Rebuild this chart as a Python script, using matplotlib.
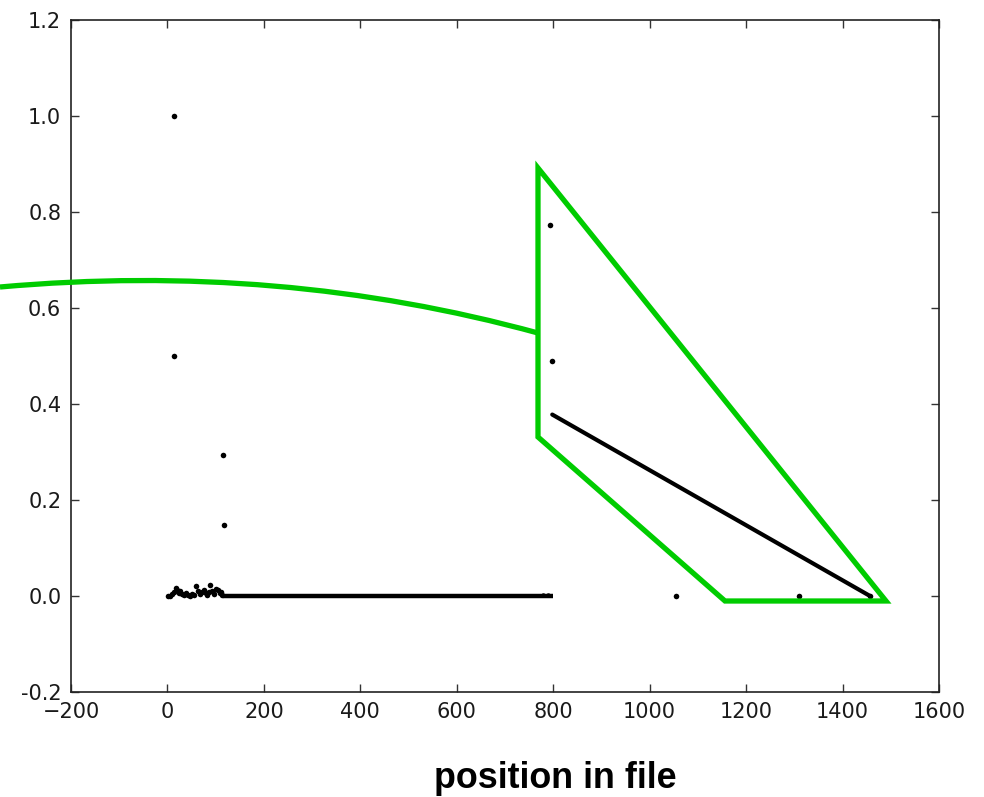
"""Scatter of values vs. position in file, with a green call-out drawn over it."""

import matplotlib
matplotlib.use("Agg")
import matplotlib.pyplot as plt
from matplotlib.path import Path
from matplotlib.patches import PathPatch, Polygon

# isolated points
point_x = [14, 14, 116, 118, 794, 798, 1055, 1310, 1457]
point_y = [1.0, 0.5, 0.293, 0.147, 0.773, 0.49, 0.0, 0.0, 0.0]

# dense cluster near the start of the file
cluster_x = [2, 6, 10, 14, 17, 20, 24, 27, 31, 35, 39, 43, 47, 51, 55, 60,
             64, 68, 72, 75, 79, 83, 86, 89, 93, 97, 100, 104, 108, 112, 114]
cluster_y = [0.0, 0.0, 0.004, 0.008, 0.016, 0.012, 0.006, 0.01, 0.004, 0.002,
             0.007, 0.003, 0.001, 0.005, 0.002, 0.021, 0.01, 0.004, 0.008,
             0.012, 0.006, 0.003, 0.009, 0.022, 0.011, 0.005, 0.014, 0.012,
             0.006, 0.009, 0.002]

# runs of points that render as solid lines
flat_x = [115, 800]
flat_y = [0.0, 0.0]
tail_dots_x = [778, 790]
tail_dots_y = [0.002, 0.002]
slope_x = [798, 1457]
slope_y = [0.378, 0.0]

x_ticks = [-200, 0, 200, 400, 600, 800, 1000, 1200, 1400, 1600]
x_labels = ["\u2212200", "0", "200", "400", "600", "800", "1000", "1200", "1400", "1600"]
y_ticks = [-0.2, 0.0, 0.2, 0.4, 0.6, 0.8, 1.0, 1.2]
y_labels = ["-0.2", "0.0", "0.2", "0.4", "0.6", "0.8", "1.0", "1.2"]

W, H = 984, 797
fig = plt.figure(figsize=(W / 100, H / 100), dpi=100, facecolor="white")
ax = fig.add_axes([71 / W, 1 - 692 / H, 868 / W, 672 / H])

ax.plot(flat_x, flat_y, "-", color="black", lw=3.2, solid_capstyle="butt")
ax.plot(slope_x, slope_y, "-", color="black", lw=3, solid_capstyle="round")
ax.plot(cluster_x, cluster_y, "o", color="black", ms=4, mew=0)
ax.plot(tail_dots_x, tail_dots_y, "o", color="black", ms=3.2, mew=0)
ax.plot(point_x, point_y, "o", color="black", ms=4, mew=0)

ax.set_xlim(-200, 1600)
ax.set_ylim(-0.2, 1.2)
ax.set_xticks(x_ticks)
ax.set_xticklabels(x_labels)
ax.set_yticks(y_ticks)
ax.set_yticklabels(y_labels)
ax.tick_params(direction="in", length=6, width=1, labelsize=15, color="#333333",
               labelcolor="#1a1a1a", top=True, right=True)
ax.tick_params(axis="x", pad=7)
ax.tick_params(axis="y", pad=7)
for s in ax.spines.values():
    s.set_linewidth(1.2)
    s.set_color("#222222")

# green call-out, in figure pixel coordinates
green = "#00cc00"


def fp(x, y):
    return (x / W, 1 - y / H)


curve = Path([fp(0, 287), fp(279, 262), fp(538, 333)],
             [Path.MOVETO, Path.CURVE3, Path.CURVE3])
fig.add_artist(PathPatch(curve, fill=False, edgecolor=green, lw=3.8,
                         transform=fig.transFigure, zorder=10))
fig.add_artist(Polygon([fp(538, 168), fp(538, 437), fp(725, 601), fp(886, 601)],
                       closed=True, fill=False, edgecolor=green, lw=3.8,
                       joinstyle="miter", transform=fig.transFigure, zorder=10))

fig.text(555 / W, 1 - 788 / H, "position in file", ha="center", va="baseline",
         fontsize=25.8, fontweight="bold", family=["Liberation Sans", "DejaVu Sans"])

fig.savefig("out.png", dpi=100, facecolor="white")
